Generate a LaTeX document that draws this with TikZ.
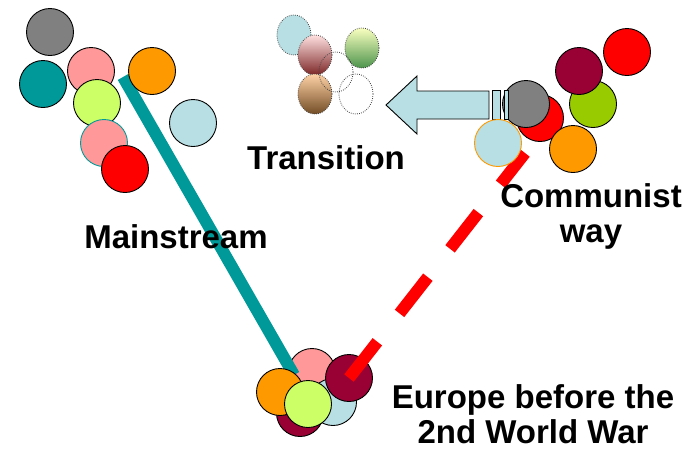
\documentclass[tikz,border=0pt]{standalone}
\usepackage{fontspec}
\setmainfont{Liberation Sans}
\usetikzlibrary{shapes.geometric}
\definecolor{ballgray}{HTML}{808080}
\definecolor{ballteal}{HTML}{009999}
\definecolor{ballpink}{HTML}{FF9999}
\definecolor{ballorange}{HTML}{FF9900}
\definecolor{balllime}{HTML}{CCFF66}
\definecolor{ballred}{HTML}{FF0000}
\definecolor{ballblue}{HTML}{B8DFE3}
\definecolor{ballmaroon}{HTML}{990033}
\definecolor{ballgreen}{HTML}{99CC00}

\begin{document}
\begin{tikzpicture}[x=1pt,y=-1pt]
\tikzstyle{ball}=[circle,draw=black,line width=0.9pt,minimum size=47pt,inner sep=0pt]
\tikzstyle{ghost}=[ellipse,draw=black!75,dash pattern=on 0.8pt off 1.3pt,line width=0.8pt,minimum width=34pt,minimum height=40pt,inner sep=0pt]
\tikzstyle{heading}=[font=\fontsize{33}{35}\selectfont\bfseries,align=center,inner sep=0pt]
\tikzstyle{road}=[line width=12pt]
\useasboundingbox (0,0) rectangle (698,451);
% mainstream
\node[ball,fill=ballgray] (m1) at (50,32) {};
\node[ball,fill=ballteal] (m2) at (43,84) {};
\node[ball,fill=ballpink] (m3) at (91,71) {};
\node[ball,fill=balllime] (m4) at (97,103) {};
\node[ball,fill=ballpink,draw=ballteal] (m5) at (104,143) {};
\node[ball,fill=ballred] (m6) at (125,169) {};
% bottom
\node[ball,fill=ballpink] (e1) at (312,372) {};
\coordinate (mainTop) at (123,77);
\coordinate (mainEnd) at (294,375);
\draw[road,ballteal] (mainTop) -- (mainEnd);
\node[ball,fill=ballorange] (m7) at (152,71) {};
\node[ball,fill=ballblue] (m8) at (193,123) {};
\node[ball,fill=ballblue] (e2) at (333,402) {};
\node[ball,fill=ballmaroon] (e3) at (300,413) {};
\node[ball,fill=ballorange] (e4) at (280,392) {};
\node[ball,fill=balllime] (e5) at (308,404) {};
\node[ball,fill=ballmaroon] (e6) at (349,378) {};
% transition
\node[ghost,top color=ballblue,bottom color=ballblue] (t1) at (294,35) {};
\node[ghost,top color=green!10!yellow!25,bottom color=green!40!black!70] (t2) at (362,48) {};
\node[ghost,top color=red!12!white,bottom color=red!40!black!85] (t3) at (315,55) {};
\node[ghost,top color=orange!35,bottom color=brown!60!black] (t4) at (315,94) {};
\node[ghost] (t5) at (336,72) {};
\node[ghost] (t6) at (356,94) {};
% communist
\node[ball,fill=ballred] (c1) at (627,52) {};
\node[ball,fill=ballgreen] (c2) at (593,104) {};
\node[ball,fill=ballmaroon] (c3) at (579,71) {};
\node[ball,fill=ballred] (c4) at (540,118) {};
\node[ball,fill=ballgray] (c5) at (526,104) {};
\node[ball,fill=ballorange] (c6) at (573,149) {};
\draw[fill=ballblue,line width=0.9pt] (489,91) -- (417,91) -- (417,76) -- (386,105) -- (417,134) -- (417,119) -- (489,119) -- cycle;
\draw[fill=ballblue,line width=0.9pt] (492,90) rectangle (500,119);
\draw[fill=ballblue,line width=0.9pt] (504,90) rectangle (508,119);
\coordinate (commTop) at (525,153);
\draw[road,ballred,dash pattern=on 46pt off 36pt] (e6.center) -- (commTop);
\node[ball,fill=ballblue,draw=ballorange] (c7) at (498,143) {};
% texts
\node[heading] (transition) at (326,158) {Transition};
\node[heading] (mainstream) at (176,237) {Mainstream};
\node[heading] (communist) at (591,216) {Communist\\way};
\node[heading] (europe) at (533,414) {Europe before the\\2nd World War};
\end{tikzpicture}
\end{document}
